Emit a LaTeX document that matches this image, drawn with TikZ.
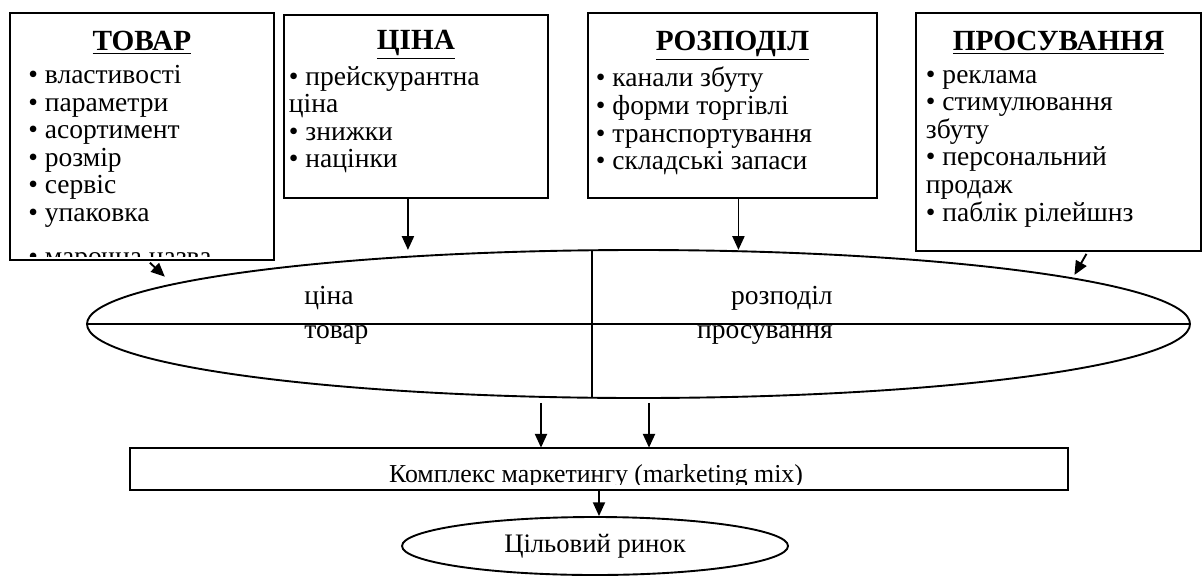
\documentclass[tikz,border=0pt]{standalone}
\usepackage{fontspec}
\setmainfont{Liberation Serif}
\usepackage{tikz}
\usetikzlibrary{
  arrows.meta,
  calc,
  positioning,
  shapes.geometric
}
\newlength\pxu
\setlength\pxu{0.581pt}
\newcommand\boxbody[3]{\parbox[c][#2\pxu][t]{#1\pxu}{#3}}
\newcommand\boxtitle[1]{\vspace*{18\pxu}{\centering\fontsize{17pt}{16pt}\selectfont
  \textbf{\underline{#1}}\par}\vspace{5.5\pxu}}

\begin{document}
\begin{tikzpicture}[
  x=0.581pt, y=-0.581pt,
  font=\fontsize{16pt}{16pt}\selectfont,
  >={Triangle[length=8pt,width=7pt]},
  card/.style={inner sep=0pt, anchor=north west},
  frame/.style={draw, line width=1.1pt},
  oval/.style={draw, ellipse, line width=1.1pt, inner sep=0pt},
  arr/.style={->, line width=1.1pt},
]
  \useasboundingbox (0,0) rectangle (1204,578);

  % four elements of the mix (text runs past the box and is cut off)
  \begin{scope}
    \clip (10,13) rectangle (273,256);
    \node[card] (tovar) at (10,13) {\boxbody{263}{246}{\boxtitle{ТОВАР}\leftskip=18\pxu
      • властивості\\• параметри\\• асортимент\\• розмір\\• сервіс\\• упаковка\\[17\pxu]• марочна назва}};
  \end{scope}
  \draw[frame] (tovar.north west) rectangle (tovar.south east);

  \node[card, frame] (cina) at (283,14) {\boxbody{264}{183}{\vspace*{-3\pxu}\boxtitle{ЦІНА}\leftskip=5\pxu
    • прейскурантна\\ціна\\• знижки\\• націнки}};
  \node[card, frame] (rozp) at (587,12) {\boxbody{289}{185}{\boxtitle{РОЗПОДІЛ}\leftskip=8\pxu
    • канали збуту\\• форми торгівлі\\• транспортування\\• складські запаси}};
  \node[card, frame] (prosuv) at (915,12) {\boxbody{285}{238}{\boxtitle{ПРОСУВАННЯ}\leftskip=10\pxu
    • реклама\\• стимулювання\\збуту\\• персональний\\продаж\\• паблік рілейшнз}};

  % split oval
  \node[oval, minimum width=1103\pxu, minimum height=148\pxu] (mix) at (638.5,324) {};
  \draw[line width=1.1pt] (mix.west) -- (mix.east);
  \draw[line width=1.1pt] (592,250.3) -- (592,397.7);
  \node[anchor=base west, inner sep=0pt] (qcina) at (304,304) {ціна};
  \node[anchor=base west, inner sep=0pt] (qtovar) at (304,338) {товар};
  \node[anchor=base east, inner sep=0pt] (qrozp) at (833,304) {розподіл};
  \node[anchor=base east, inner sep=0pt] (qprosuv) at (833,338) {просування};

  \begin{scope}
    \clip (130,448) rectangle (1068,484);
    \node[card, anchor=center, minimum width=938\pxu, minimum height=42\pxu,
          font=\fontsize{15pt}{16pt}\selectfont,
          text height=26\pxu, text depth=0pt] (kompl) at (599,469)
          {Комплекс маркетингу (marketing mix)\hspace*{6\pxu}};
  \end{scope}
  \draw[frame] (kompl.north west) rectangle (kompl.south east);

  \node[oval, minimum width=386\pxu, minimum height=58\pxu,
        font=\fontsize{15.5pt}{16pt}\selectfont] (rynok) at (595,546)
        {Цільовий ринок};

  \draw[arr] ($(tovar.south)+(8,3)$) -- ($(tovar.south)+(23,17)$);
  \draw[arr] ($(cina.south)+(-8,0)$) -- ++(0,51);
  \draw[arr] ($(rozp.south)+(6,0)$) -- ++(0,51);
  \draw[arr] ($(prosuv.south)+(28,2)$) -- ++(-12,21);
  \draw[arr] ($(mix.south)+(-97.5,4)$) -- ([xshift=-58\pxu]kompl.north);
  \draw[arr] ($(mix.south)+(10.5,4)$) -- ([xshift=50\pxu]kompl.north);
  \draw[arr] (kompl.south) -- (kompl.south |- rynok.north);
\end{tikzpicture}
\end{document}
